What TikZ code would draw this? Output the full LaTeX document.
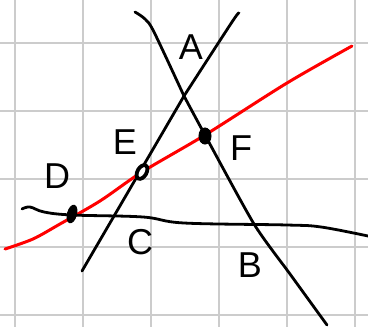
\documentclass[tikz,border=0pt]{standalone}
\usepackage{fontspec}
\setmainfont{Liberation Sans}
\usepackage{tikz}
\usetikzlibrary{shapes.geometric}

\begin{document}
\begin{tikzpicture}[
  x=1pt, y=-1pt,
  gridline/.style={draw=gray!40, line width=2pt},
  stroke/.style={draw=black, line width=2.8pt, line cap=round, line join=round},
  redline/.style={draw=red, line width=3pt, line cap=round},
  dotmark/.style={ellipse, draw=black, fill=black, line width=1pt, inner sep=0pt},
  lbl/.style={font=\fontsize{36}{36}\selectfont, inner sep=0pt}
]
  \useasboundingbox (0,0) rectangle (368,327);
  \fill[white] (0,0) rectangle (368,327);

  % grid paper
  \foreach \gx in {15,83,151,219,287,355}
    \draw[gridline] (\gx,0) -- (\gx,327);
  \foreach \gy in {43,111,179,247,315}
    \draw[gridline] (0,\gy) -- (368,\gy);

  % points on the curves
  \coordinate (a0) at (135,12);
  \coordinate (a1) at (145,19);
  \coordinate (a2) at (154,32);
  \coordinate (A) at (184,96);
  \coordinate (a4) at (254,224);
  \coordinate (a5) at (290,274);
  \coordinate (a6) at (327,325);

  \coordinate (b0) at (239,13);
  \coordinate (b1) at (232,22);
  \coordinate (b2) at (82,271);

  \coordinate (r0) at (5,249);
  \coordinate (r1) at (33,239);
  \coordinate (r2) at (60,224);
  \coordinate (r3) at (100,201);
  \coordinate (r4) at (142,172);
  \coordinate (r5) at (205,135);
  \coordinate (r6) at (287,83);
  \coordinate (r7) at (352,46);

  \coordinate (h0) at (22,209);
  \coordinate (h1) at (30,207);
  \coordinate (h2) at (44,212);
  \coordinate (h3) at (72,215);
  \coordinate (h4) at (143,217);
  \coordinate (h5) at (184,223);
  \coordinate (h6) at (287,225);
  \coordinate (h7) at (321,227);
  \coordinate (h8) at (368,236);

  % the two crossing lines
  \draw[stroke] plot[smooth, tension=0.5] coordinates {(a0) (a1) (a2) (A)};
  \draw[stroke] plot[smooth, tension=0.4] coordinates {(A) (r5) (a4) (a5) (a6)};
  \draw[stroke] plot[smooth, tension=0.5] coordinates {(b0) (b1) (A)} -- (b2);

  % red curve
  \draw[redline] plot[smooth] coordinates {(r0) (r1) (r2) (r3) (r4) (r5) (r6) (r7)};

  % near horizontal line
  \draw[stroke] plot[smooth, tension=0.6] coordinates {(h0) (h1) (h2) (h3) (h4) (h5) (h6) (h7) (h8)};

  % marked points
  \node[dotmark, minimum width=9pt, minimum height=18pt, rotate=-15] (ptD) at (72,214) {};
  \node[dotmark, fill=white, line width=3.8pt, minimum width=9pt, minimum height=15pt, rotate=-30] (ptE) at (142,172) {};
  \node[dotmark, minimum width=12pt, minimum height=16pt] (ptF) at (205,136) {};

  % labels
  \node[lbl] (labA) at (191,47) {A};
  \node[lbl] (labE) at (125,142) {E};
  \node[lbl] (labD) at (57,176) {D};
  \node[lbl] (labF) at (241,148) {F};
  \node[lbl] (labC) at (140,242) {C};
  \node[lbl] (labB) at (250,265) {B};
\end{tikzpicture}
\end{document}
